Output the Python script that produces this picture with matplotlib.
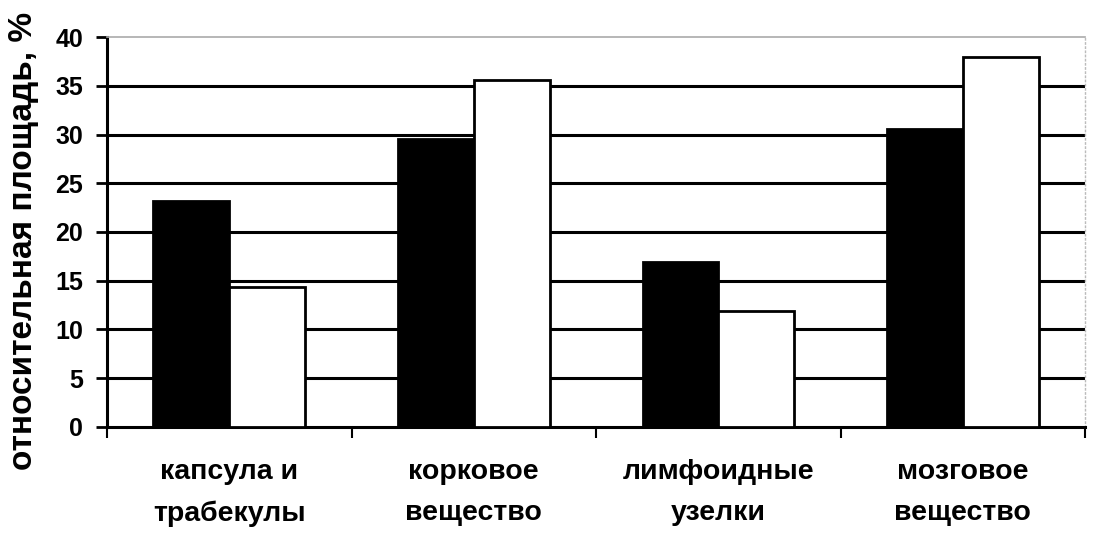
import numpy as np
import matplotlib.pyplot as plt

# Значения
categories = ["капсула и\nтрабекулы", "корковое\nвещество", "лимфоидные\nузелки", "мозговое\nвещество"]
series_black = [23.2, 29.5, 16.9, 30.6]
series_white = [14.4, 35.6, 11.9, 37.9]
yticks = [0, 5, 10, 15, 20, 25, 30, 35, 40]

plt.rcParams['font.family'] = ['Liberation Sans', 'DejaVu Sans']
plt.rcParams['font.weight'] = 'bold'

fig = plt.figure(figsize=(10.96, 5.34), dpi=100)
ax = fig.add_axes([0.0976, 0.2004, 0.8925, 0.7303])

x = np.arange(len(categories))
w = 0.31
ax.bar(x - w / 2, series_black, w, color="black", edgecolor="black", linewidth=2, zorder=3)
ax.bar(x + w / 2, series_white, w, color="white", edgecolor="black", linewidth=2, zorder=3)

ax.set_xlim(-0.5, len(categories) - 0.5)
ax.set_ylim(0, 40)
ax.set_yticks(yticks)
ax.set_yticklabels([str(v) for v in yticks], fontsize=18, fontweight="bold")

# сетка
for v in yticks[1:-1]:
    ax.axhline(v, color="black", linewidth=2.2, zorder=1)

# деления по границам категорий
ax.set_xticks(np.arange(len(categories) + 1) - 0.5)
ax.set_xticklabels([])
ax.tick_params(axis="x", length=8, width=1.5, direction="out")
ax.tick_params(axis="y", length=8, width=2, direction="out", pad=9)
for i, lab in enumerate(categories):
    ax.text(i, -3.3, lab, ha="center", va="top", fontsize=20.5, fontweight="bold",
            linespacing=1.75)

ax.spines["left"].set_linewidth(2.2)
ax.spines["bottom"].set_linewidth(2.2)
ax.spines["top"].set_color("#aaaaaa")
ax.spines["top"].set_linestyle((0, (2, 1)))
ax.spines["top"].set_linewidth(1.2)
ax.spines["right"].set_color("#bbbbbb")
ax.spines["right"].set_linestyle((0, (1, 2)))
ax.spines["right"].set_linewidth(1.0)

fig.text(0.021, 0.548, "относительная площадь, %", rotation=90, ha="center", va="center",
         fontsize=24, fontweight="bold")

fig.savefig("out.png", dpi=100)
